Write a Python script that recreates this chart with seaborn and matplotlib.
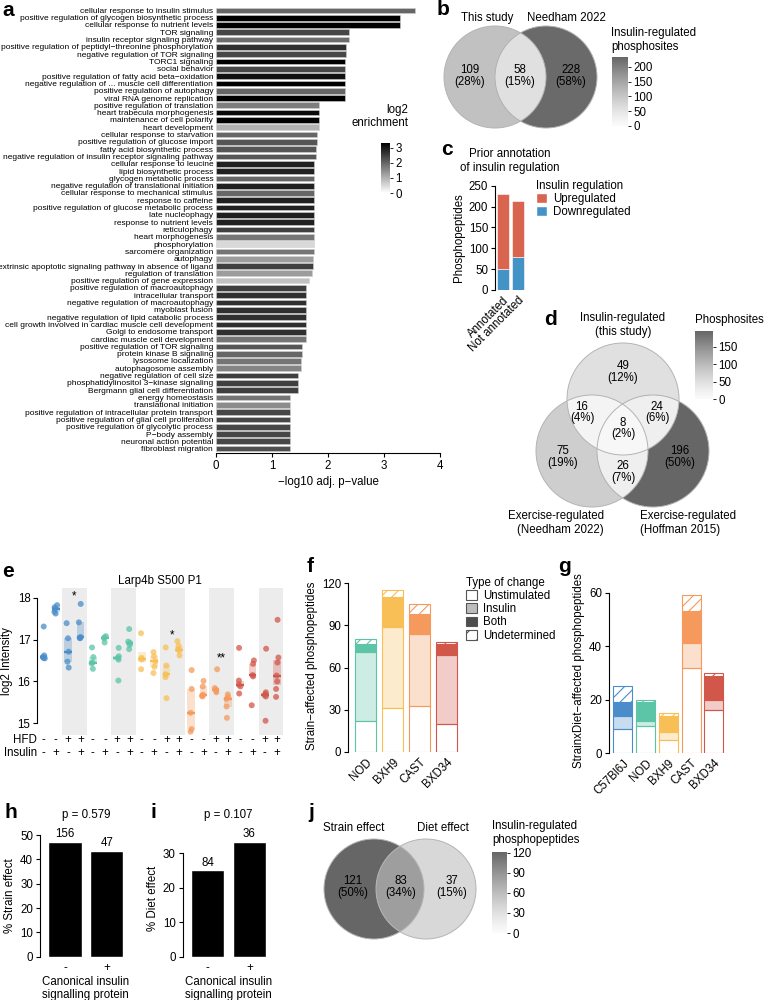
import numpy as np
import pandas as pd
import matplotlib
matplotlib.use("Agg")
import matplotlib.pyplot as plt
import seaborn as sns
from matplotlib.colors import LinearSegmentedColormap, Normalize, to_rgba
from matplotlib.patches import Circle, Patch, Polygon
from matplotlib.cm import ScalarMappable
from matplotlib.transforms import blended_transform_factory

# ---------------- data ----------------
go_terms = [
    "cellular response to insulin stimulus",
    "positive regulation of glycogen biosynthetic process",
    "cellular response to nutrient levels",
    "TOR signaling",
    "insulin receptor signaling pathway",
    "positive regulation of peptidyl−threonine phosphorylation",
    "negative regulation of TOR signaling",
    "TORC1 signaling",
    "social behavior",
    "positive regulation of fatty acid beta−oxidation",
    "negative regulation of ... muscle cell differentiation",
    "positive regulation of autophagy",
    "viral RNA genome replication",
    "positive regulation of translation",
    "heart trabecula morphogenesis",
    "maintenance of cell polarity",
    "heart development",
    "cellular response to starvation",
    "positive regulation of glucose import",
    "fatty acid biosynthetic process",
    "negative regulation of insulin receptor signaling pathway",
    "cellular response to leucine",
    "lipid biosynthetic process",
    "glycogen metabolic process",
    "negative regulation of translational initiation",
    "cellular response to mechanical stimulus",
    "response to caffeine",
    "positive regulation of glucose metabolic process",
    "late nucleophagy",
    "response to nutrient levels",
    "reticulophagy",
    "heart morphogenesis",
    "phosphorylation",
    "sarcomere organization",
    "autophagy",
    "extrinsic apoptotic signaling pathway in absence of ligand",
    "regulation of translation",
    "positive regulation of gene expression",
    "positive regulation of macroautophagy",
    "intracellular transport",
    "negative regulation of macroautophagy",
    "myoblast fusion",
    "negative regulation of lipid catabolic process",
    "cell growth involved in cardiac muscle cell development",
    "Golgi to endosome transport",
    "cardiac muscle cell development",
    "positive regulation of TOR signaling",
    "protein kinase B signaling",
    "lysosome localization",
    "autophagosome assembly",
    "negative regulation of cell size",
    "phosphatidylinositol 3−kinase signaling",
    "Bergmann glial cell differentiation",
    "energy homeostasis",
    "translational initiation",
    "positive regulation of intracellular protein transport",
    "positive regulation of glial cell proliferation",
    "positive regulation of glycolytic process",
    "P−body assembly",
    "neuronal action potential",
    "fibroblast migration",
]
go_logp = [3.55, 3.28, 3.28, 2.38, 2.38, 2.33, 2.32, 2.30, 2.30, 2.30, 2.30, 2.30, 2.30,
           1.84, 1.84, 1.84, 1.84, 1.80, 1.80, 1.79, 1.79,
           1.75, 1.75, 1.75, 1.75, 1.75, 1.75, 1.75, 1.75, 1.75, 1.75, 1.75, 1.75, 1.75,
           1.74, 1.73, 1.71, 1.66, 1.60, 1.60,
           1.60, 1.60, 1.60, 1.60, 1.60, 1.60, 1.54, 1.54, 1.52, 1.52,
           1.46, 1.46, 1.46, 1.33, 1.33, 1.33, 1.33, 1.33, 1.33, 1.33, 1.33]
go_enrich = [2.0, 3.4, 3.4, 2.4, 1.9, 2.7, 2.4, 3.4, 2.4, 3.1, 3.4, 2.0, 3.4,
             1.7, 3.2, 3.3, 1.0, 2.0, 2.2, 2.2, 2.2,
             2.9, 2.9, 2.0, 2.9, 2.0, 2.9, 2.9, 2.9, 2.9, 2.5, 1.8, 0.5, 1.8,
             1.3, 2.5, 1.3, 0.8, 2.5, 2.7,
             2.7, 2.7, 2.7, 2.7, 2.7, 1.8, 2.2, 2.0, 1.8, 1.6,
             2.5, 2.5, 2.5, 1.8, 1.5, 2.4, 2.4, 2.4, 2.4, 2.4, 2.3]

b_counts = [109, 228, 58]              # this study only, Needham only, both
c_groups = ["Annotated", "Not annotated"]
c_up = [179, 134]
c_down = [50, 79]
d_counts = [49, 75, 196, 16, 24, 26, 8]  # ins, needham, hoffman, ins&need, ins&hoff, need&hoff, all

strains = ["C57Bl6J", "NOD", "BXH9", "CAST", "BXD34"]
strain_colors = {"C57Bl6J": "#4a8dca", "NOD": "#5cc4a7", "BXH9": "#f8bf57",
                 "CAST": "#f59a5c", "BXD34": "#d2574b"}
e_hfd = ["-", "-", "+", "+"] * 5
e_ins = ["-", "+", "-", "+"] * 5
e_values = [
    [17.31, 16.62, 16.58, 16.56, 16.55],
    [17.82, 17.77, 17.73, 17.66, 17.62],
    [17.39, 17.03, 16.71, 16.47, 16.33],
    [17.85, 17.41, 17.06, 17.04, 17.03],
    [16.81, 16.58, 16.45, 16.43, 16.30],
    [17.08, 17.05, 17.03, 16.93],
    [16.80, 16.60, 16.56, 16.52, 16.02],
    [17.25, 16.95, 16.92, 16.87, 16.77],
    [17.15, 16.56, 16.52, 16.29],
    [16.70, 16.60, 16.48, 16.35, 16.20],
    [16.81, 16.38, 16.17, 16.10, 15.60],
    [16.96, 16.85, 16.76, 16.74, 16.62],
    [16.27, 15.82, 15.25, 14.86, 14.80],
    [16.01, 15.88, 15.68, 15.66, 15.64],
    [16.29, 15.84, 15.80, 15.78, 15.74],
    [15.69, 15.62, 15.58, 15.40, 15.13],
    [16.80, 16.02, 15.92, 15.88, 15.71],
    [16.50, 16.42, 16.15, 16.12, 15.43],
    [16.78, 15.74, 15.70, 15.67, 15.64, 15.06],
    [17.47, 16.57, 16.45, 16.14, 16.00, 15.82, 15.63],
]
e_stars = [(2.5, "*", 18.02), (10.5, "*", 17.10), (14.5, "**", 16.56)]

f_strains = ["NOD", "BXH9", "CAST", "BXD34"]
f_unstim = [22, 31, 33, 20]
f_insulin = [49, 58, 51, 49]
f_both = [6, 21, 14, 8]
f_undet = [3, 5, 7, 1]

g_strains = ["C57Bl6J", "NOD", "BXH9", "CAST", "BXD34"]
g_unstim = [9, 10, 5, 32, 16]
g_insulin = [5, 2, 3, 9, 4]
g_both = [5, 7, 6, 12, 9]
g_undet = [6, 1, 1, 6, 1]

h_groups = ["-", "+"]
h_pct = [47.2, 43.5]
h_n = [156, 47]
h_p = "p = 0.579"
i_pct = [25.2, 33.4]
i_n = [84, 36]
i_p = "p = 0.107"

j_counts = [121, 37, 83]   # strain only, diet only, both

# ---------------- style ----------------
sns.set_theme(style="ticks")
plt.rcParams["font.family"] = ["Liberation Sans", "DejaVu Sans"]
FS = 8.3
plt.rcParams.update({
    "font.size": FS, "axes.labelsize": FS, "xtick.labelsize": FS, "ytick.labelsize": FS,
    "axes.linewidth": 0.8, "xtick.major.width": 0.8, "ytick.major.width": 0.8,
    "xtick.major.size": 3, "ytick.major.size": 3, "xtick.major.pad": 2, "ytick.major.pad": 2,
    "axes.labelpad": 3, "axes.edgecolor": "black", "xtick.color": "black",
    "ytick.color": "black", "text.color": "black", "axes.labelcolor": "black",
    "hatch.linewidth": 0.8,
})

W, H = 765, 1000
fig = plt.figure(figsize=(W / 100, H / 100), dpi=100)


def box(x0, y0, x1, y1):
    return [x0 / W, 1 - y1 / H, (x1 - x0) / W, (y1 - y0) / H]


def letter(x, y, s):
    fig.text(x / W, 1 - y / H, s, fontsize=15, fontweight="bold", ha="left", va="baseline")


def add_cbar(rect, cmap, norm, ticks):
    cax = fig.add_axes(box(*rect))
    cb = fig.colorbar(ScalarMappable(norm, cmap), cax=cax, ticks=ticks)
    cb.outline.set_visible(False)
    cax.tick_params(length=2, width=0.6, pad=2)
    return cb


# venn grey scale (light for small counts, dark grey for large)
t = np.linspace(0, 1, 256)
gv = (250 - 148 * t ** 1.25) / 255
venn_cmap = LinearSegmentedColormap.from_list("venn", np.c_[gv, gv, gv])

# ---------------- a ----------------
ax = fig.add_axes(box(216, 6, 440, 453))
enrich_cmap = LinearSegmentedColormap.from_list("enr", ["#ffffff", "#000000"])
enrich_norm = Normalize(0, 3.33)
pal = {tm: enrich_cmap(enrich_norm(v)) for tm, v in zip(go_terms, go_enrich)}
sns.barplot(x=go_logp, y=go_terms, hue=go_terms, palette=pal, legend=False, orient="h",
            width=0.78, saturation=1, edgecolor="#d0d0d0", linewidth=0.4, ax=ax)
ax.set_xlim(0, 4)
ax.set_ylim(60.6, -0.6)
ax.set_xticks([0, 1, 2, 3, 4])
sns.despine(ax=ax, left=True)
ax.tick_params(axis="y", length=0, labelsize=6, pad=2)
ax.set_xlabel("−log10 adj. p−value")
ax.set_ylabel("")
add_cbar((381, 143, 390, 193), enrich_cmap, enrich_norm, [0, 1, 2, 3])
fig.text(408 / W, 1 - 116.5 / H, "log2\nenrichment", ha="right", va="center",
         multialignment="right")
letter(2, 16, "a")

# ---------------- c ----------------
up_col, down_col = "#d9644f", "#4493c6"
ax = fig.add_axes(box(495, 185.7, 525, 290))
xc = np.arange(len(c_groups))
ax.bar(xc, c_down, width=0.8, color=down_col, edgecolor="white", linewidth=0.4)
ax.bar(xc, c_up, bottom=c_down, width=0.8, color=up_col, edgecolor="white", linewidth=0.4)
ax.set_xlim(-0.53, 1.47)
ax.set_ylim(0, 250)
ax.set_yticks([0, 50, 100, 150, 200, 250])
ax.set_xticks(xc)
ax.set_xticklabels(c_groups, rotation=45, ha="right", rotation_mode="anchor")
ax.tick_params(axis="x", length=0, pad=3)
sns.despine(ax=ax, bottom=True)
ax.set_ylabel("Phosphopeptides")
fig.text(510 / W, 1 - 161 / H, "Prior annotation\nof insulin regulation", ha="center", va="center")
fig.legend(handles=[Patch(facecolor=up_col), Patch(facecolor=down_col)],
           labels=["Upregulated", "Downregulated"], title="Insulin regulation",
           loc="upper left", bbox_to_anchor=(536 / W, 1 - 180 / H), frameon=False,
           borderpad=0, borderaxespad=0, handlelength=0.95, handleheight=0.95,
           handletextpad=0.5, labelspacing=0.1, alignment="left",
           fontsize=FS, title_fontsize=FS)
letter(441, 155, "c")

# ---------------- e ----------------
ax = fig.add_axes(box(37.4, 588, 283.2, 735))
rows = []
for k, vals in enumerate(e_values):
    for v in vals:
        rows.append({"col": k, "strain": strains[k // 4], "value": v})
df_e = pd.DataFrame(rows)
for k in range(20):
    if e_hfd[k] == "+" and (k % 2 == 0):
        ax.axvspan(k - 0.5, k + 1.5, color="#ececec", lw=0, zorder=0)
stats = df_e.groupby("col")["value"]
q1 = stats.quantile(0.25)
q3 = stats.quantile(0.75)
med = stats.median()
for k in range(20):
    c = strain_colors[strains[k // 4]]
    ax.bar(k, q3[k] - q1[k], bottom=q1[k], width=0.62, color=to_rgba(c, 0.3), lw=0, zorder=1)
    ax.hlines(med[k], k - 0.31, k + 0.31, color=c, lw=1.6, zorder=4)
np.random.seed(3)
sns.stripplot(data=df_e, x="col", y="value", hue="strain", palette=strain_colors,
              order=list(range(20)), jitter=0.13, size=4.3, alpha=0.75, linewidth=0,
              legend=False, zorder=3, ax=ax)
ax.set_xlim(-0.5, 19.5)
ax.set_ylim(14.72, 18.23)
ax.set_yticks([15, 16, 17, 18])
ax.spines["left"].set_bounds(15, 18)
sns.despine(ax=ax, bottom=True)
ax.set_xticks([])
ax.set_xlabel("")
ax.set_ylabel("log2 Intensity")
ax.set_title("Larp4b S500 P1", fontsize=FS, pad=3)
for xs, s, ys in e_stars:
    ax.text(xs, ys, s, ha="center", va="center", fontsize=FS)
tr = blended_transform_factory(ax.transData, fig.transFigure)
for k in range(20):
    ax.text(k, 1 - 740 / H, e_hfd[k], transform=tr, ha="center", va="center")
    ax.text(k, 1 - 753 / H, e_ins[k], transform=tr, ha="center", va="center")
fig.text(37 / W, 1 - 740 / H, "HFD", ha="right", va="center")
fig.text(37 / W, 1 - 753 / H, "Insulin", ha="right", va="center")
letter(2, 577, "e")


# ---------------- f, g ----------------
def stacked_bars(ax, names, unstim, insulin, both, undet, width):
    x = np.arange(len(names))
    cols = [strain_colors[s] for s in names]
    bottom = np.zeros(len(names))
    layers = [(unstim, ["white"] * len(cols), None),
              (insulin, [to_rgba(c, 0.3) for c in cols], None),
              (both, cols, None),
              (undet, ["white"] * len(cols), "///")]
    for vals, fc, hatch in layers:
        vals = np.asarray(vals, float)
        ax.bar(x, vals, bottom=bottom, width=width, color=fc, edgecolor=cols,
               linewidth=0.8, hatch=hatch)
        bottom += vals
    ax.set_xticks(x)
    ax.set_xticklabels(names, rotation=45, ha="right", rotation_mode="anchor")
    ax.tick_params(axis="x", length=0, pad=3)
    sns.despine(ax=ax, bottom=True)


ax = fig.add_axes(box(348, 580.2, 459.5, 752))
stacked_bars(ax, f_strains, f_unstim, f_insulin, f_both, f_undet, 0.81)
ax.set_xlim(-0.65, 3.48)
ax.set_ylim(0, 122)
ax.set_yticks([0, 30, 60, 90, 120])
ax.spines["left"].set_bounds(0, 120)
ax.set_ylabel("Strain−affected phosphopeptides")
leg_edge = "#555555"
fig.legend(handles=[Patch(facecolor="white", edgecolor=leg_edge, lw=0.8),
                    Patch(facecolor="#bdbdbd", edgecolor=leg_edge, lw=0.8),
                    Patch(facecolor="#4d4d4d", edgecolor=leg_edge, lw=0.8),
                    Patch(facecolor="white", edgecolor=leg_edge, lw=0.8, hatch="//")],
           labels=["Unstimulated", "Insulin", "Both", "Undetermined"], title="Type of change",
           loc="upper left", bbox_to_anchor=(466 / W, 1 - 577 / H), frameon=False,
           borderpad=0, borderaxespad=0, handlelength=0.95, handleheight=0.95,
           handletextpad=0.5, labelspacing=0.1, alignment="left",
           fontsize=FS, title_fontsize=FS)
letter(307, 572, "f")

ax = fig.add_axes(box(609, 588.7, 726, 753))
stacked_bars(ax, g_strains, g_unstim, g_insulin, g_both, g_undet, 0.83)
ax.set_xlim(-0.6, 4.53)
ax.set_ylim(0, 61.5)
ax.set_yticks([0, 20, 40, 60])
ax.spines["left"].set_bounds(0, 60)
ax.set_ylabel("StrainxDiet−affected phosphopeptides")
letter(558, 572, "g")


# ---------------- h, i ----------------
def pct_bars(rect, pct, n, ptxt, ylim, yticks, ylabel, bound):
    ax = fig.add_axes(box(*rect))
    sns.barplot(x=h_groups, y=pct, color="black", saturation=1, width=0.8, ax=ax)
    ax.bar_label(ax.containers[0], labels=[str(v) for v in n], padding=1, fontsize=FS)
    ax.set_xlim(-0.6, 1.6)
    ax.set_ylim(*ylim)
    ax.set_yticks(yticks)
    ax.spines["left"].set_bounds(0, bound)
    sns.despine(ax=ax, bottom=True)
    ax.tick_params(axis="x", length=0, pad=4)
    ax.set_ylabel(ylabel)
    ax.set_xlabel("Canonical insulin\nsignalling protein", labelpad=1)
    cx = (rect[0] + rect[2]) / 2
    fig.text(cx / W, 1 - 815 / H, ptxt, ha="center", va="center")
    return ax


pct_bars((40, 835, 131.7, 956.7), h_pct, h_n, h_p, (0, 50), [0, 10, 20, 30, 40, 50],
         "% Strain effect", 50)
letter(5, 818, "h")
pct_bars((182.6, 839.6, 274.4, 956.7), i_pct, i_n, i_p, (0, 34), [0, 10, 20, 30],
         "% Diet effect", 30)
letter(150, 818, "i")

# ---------------- venns (b, d, j) ----------------
ov = fig.add_axes([0, 0, 1, 1])
ov.set_xlim(0, W)
ov.set_ylim(H, 0)
ov.axis("off")


def region_polygon(circles, n=720):
    pts = []
    for i, (cx, cy, r) in enumerate(circles):
        tt = np.linspace(0, 2 * np.pi, n, endpoint=False)
        p = np.c_[cx + r * np.cos(tt), cy + r * np.sin(tt)]
        keep = np.ones(n, bool)
        for j, (ox, oy, orr) in enumerate(circles):
            if j != i:
                keep &= (p[:, 0] - ox) ** 2 + (p[:, 1] - oy) ** 2 <= orr ** 2 + 1e-6
        pts.append(p[keep])
    pts = np.vstack(pts)
    c = pts.mean(0)
    return pts[np.argsort(np.arctan2(pts[:, 1] - c[1], pts[:, 0] - c[0]))]


def draw_venn(circles, regions, counts, label_xy, norm):
    for idx, cnt in sorted(zip(regions, counts), key=lambda z: len(z[0])):
        poly = region_polygon([circles[i] for i in idx])
        ov.add_patch(Polygon(poly, closed=True, facecolor=venn_cmap(norm(cnt)), edgecolor="none"))
    for cx, cy, r in circles:
        ov.add_patch(Circle((cx, cy), r, facecolor="none", edgecolor="#b4b4b4", lw=0.7))
    total = sum(counts)
    for cnt, (x, y) in zip(counts, label_xy):
        ov.text(x, y, f"{cnt}\n({100 * cnt / total:.0f}%)", ha="center", va="center",
                linespacing=1.0)


# b
norm_b = Normalize(0, 233)
draw_venn([(495, 77, 51), (546, 77, 51)], [(0,), (1,), (0, 1)], b_counts,
          [(470, 76), (571, 76), (520, 76)], norm_b)
ov.text(487, 18, "This study", ha="center", va="center")
ov.text(566, 18, "Needham 2022", ha="center", va="center")
add_cbar((612, 57, 628, 126), venn_cmap, norm_b, [0, 50, 100, 150, 200])
fig.text(611 / W, 1 - 40 / H, "Insulin-regulated\nphosphosites", ha="left", va="center")
letter(437, 15, "b")

# d
norm_d = Normalize(0, 196)
draw_venn([(623, 399, 56), (592, 451, 56), (653, 451, 56)],
          [(0,), (1,), (2,), (0, 1), (0, 2), (1, 2), (0, 1, 2)], d_counts,
          [(623, 372), (563, 457), (680, 457), (582, 412.5), (657, 412.5), (623, 472),
           (623, 428.5)], norm_d)
ov.text(623, 325, "Insulin-regulated\n(this study)", ha="center", va="center")
ov.text(604, 523, "Exercise-regulated\n(Needham 2022)", ha="right", va="center",
        multialignment="right")
ov.text(640, 523, "Exercise-regulated\n(Hoffman 2015)", ha="left", va="center",
        multialignment="left")
add_cbar((695, 331, 713, 399), venn_cmap, norm_d, [0, 50, 100, 150])
fig.text(695 / W, 1 - 320 / H, "Phosphosites", ha="left", va="center")
letter(544, 325, "d")

# j
norm_j = Normalize(0, 121)
draw_venn([(374, 889, 50), (426, 889, 50)], [(0,), (1,), (0, 1)], j_counts,
          [(353, 887), (452, 887), (401, 887)], norm_j)
ov.text(354, 828, "Strain effect", ha="center", va="center")
ov.text(443, 828, "Diet effect", ha="center", va="center")
add_cbar((492, 852, 507, 933), venn_cmap, norm_j, [0, 30, 60, 90, 120])
fig.text(492 / W, 1 - 833 / H, "Insulin-regulated\nphosphopeptides", ha="left", va="center")
letter(308, 818, "j")

fig.savefig("out.png", dpi=100)
